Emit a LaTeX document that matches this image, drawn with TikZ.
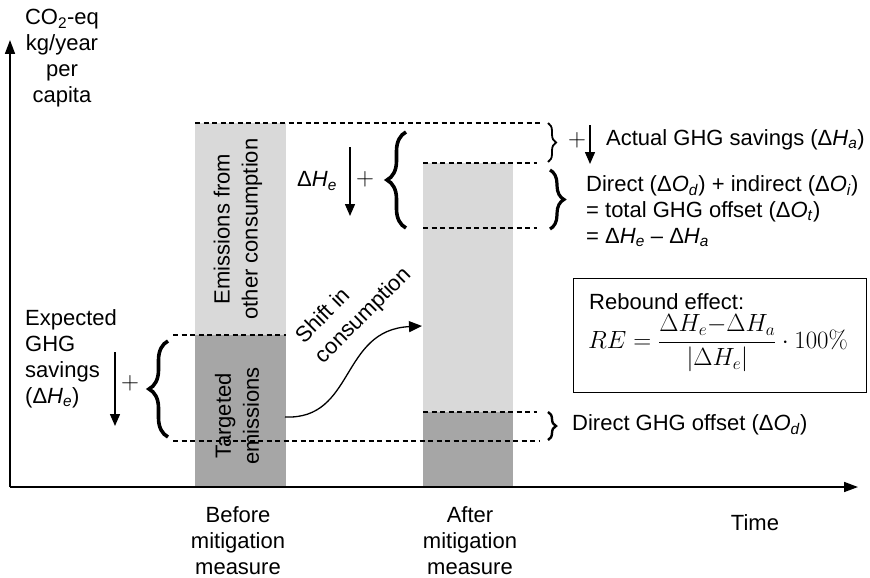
\documentclass[tikz,border=0pt]{standalone}
\usepackage{amsmath}
\usepackage[no-math]{fontspec}
\setmainfont{Liberation Sans}
\usetikzlibrary{arrows.meta,decorations.pathreplacing}
\definecolor{lightbar}{HTML}{D9D9D9}
\definecolor{darkbar}{HTML}{A6A6A6}
\newcommand{\dq}[2]{Δ\textit{#1}\textsubscript{\textit{#2}}}
\begin{document}
\begin{tikzpicture}[x=1pt,y=-1pt,
  every node/.style={font=\fontsize{22}{26}\selectfont, inner sep=0pt},
  dashline/.style={dash pattern=on 5pt off 3.5pt, line width=1.3pt},
  axisarrow/.style={line width=1.6pt, -{Triangle[length=14pt,width=10pt]}},
  varrow/.style={line width=1.4pt, -{Triangle[length=12pt,width=10pt]}},
  curvearrow/.style={line width=1.3pt, -{Triangle[length=13pt,width=11pt]}},
  bracestyle/.style={decorate, decoration={brace, amplitude=#1}},
  rottext/.style={font=\fontsize{22}{28}\selectfont, rotate=90, align=center},
  plussign/.style={font=\fontsize{26}{26}\selectfont}
]
\useasboundingbox (0,0) rectangle (870,578);

% bars
\fill[lightbar] (195,123) rectangle (286,335);
\fill[darkbar] (195,335) rectangle (286,487);
\fill[lightbar] (423,163) rectangle (513,412);
\fill[darkbar] (423,412) rectangle (513,487);

% dashed guide lines
\coordinate (d1a) at (195,123); \coordinate (d1b) at (541,123);
\coordinate (d2a) at (423,163); \coordinate (d2b) at (537,163);
\coordinate (d3a) at (423,228); \coordinate (d3b) at (537,228);
\coordinate (d4a) at (173,335); \coordinate (d4b) at (286,335);
\coordinate (d5a) at (423,412); \coordinate (d5b) at (537,412);
\coordinate (d6a) at (173,441); \coordinate (d6b) at (540,441);
\draw[dashline] (d1a) -- (d1b);
\draw[dashline] (d2a) -- (d2b);
\draw[dashline] (d3a) -- (d3b);
\draw[dashline] (d4a) -- (d4b);
\draw[dashline] (d5a) -- (d5b);
\draw[dashline] (d6a) -- (d6b);

% axes
\coordinate (O) at (10,487);
\coordinate (Ytip) at (10,40);
\coordinate (Xtip) at (858,487);
\draw[axisarrow] (O) -- (Ytip);
\draw[axisarrow] (O) -- (Xtip);

\node[align=center] (ylab) at (62,58) {CO\textsubscript{2}-eq\\kg/year\\per\\capita};

% rotated bar labels
\node[rottext] (other) at (238,229) {Emissions from\\other consumption};
\node[rottext] (target) at (237,416) {Targeted\\emissions};

% shift in consumption
\node[rotate=45, align=left, font=\fontsize{22}{28}\selectfont] (shift) at (354,306) {Shift in\\consumption};
\coordinate (s1) at (285,417);
\coordinate (s2) at (422,326);
\draw[curvearrow] (s1) .. controls (355,420) and (340,330) .. (s2);

% expected savings
\node[align=left, anchor=west] (exp) at (25,359) {Expected\\GHG\\savings\\(\dq{H}{e})};
\coordinate (a1s) at (115,352); \coordinate (a1e) at (115,426);
\draw[varrow] (a1s) -- (a1e);
\node[plussign] (p1) at (130,383) {$+$};
\coordinate (b1s) at (168,437); \coordinate (b1e) at (168,341);
\draw[bracestyle=19, line width=3.6pt] (b1s) -- (b1e);

% middle Delta He
\node[anchor=west] (dhe) at (297,181) {\dq{H}{e}};
\coordinate (a2s) at (350,147); \coordinate (a2e) at (350,216);
\draw[varrow] (a2s) -- (a2e);
\node[plussign] (p2) at (365,179) {$+$};
\coordinate (b2s) at (406,228); \coordinate (b2e) at (406,132);
\draw[bracestyle=19, line width=3.6pt] (b2s) -- (b2e);

% actual savings
\coordinate (b3s) at (548,123); \coordinate (b3e) at (548,162);
\draw[bracestyle=8, line width=1.8pt] (b3s) -- (b3e);
\node[plussign] (p3) at (577,140) {$+$};
\coordinate (a3s) at (590,125); \coordinate (a3e) at (590,164);
\draw[varrow] (a3s) -- (a3e);
\node[anchor=west] (actual) at (606,140) {Actual GHG savings (\dq{H}{a})};

% total offset
\coordinate (b4s) at (550,170); \coordinate (b4e) at (550,229);
\draw[bracestyle=14, line width=3.2pt] (b4s) -- (b4e);
\node[anchor=west, align=left] (offset) at (586,211) {Direct (\dq{O}{d}) + indirect (\dq{O}{i})\\= total GHG offset (\dq{O}{t})\\= \dq{H}{e} – \dq{H}{a}};

% direct offset
\coordinate (b5s) at (548,412); \coordinate (b5e) at (548,440);
\draw[bracestyle=8, line width=2.4pt] (b5s) -- (b5e);
\node[anchor=west] (direct) at (572,425) {Direct GHG offset (\dq{O}{d})};

% rebound box
\node[draw, line width=1.3pt, anchor=north west, minimum width=293pt, minimum height=114pt] (box) at (573,278) {};
\node[anchor=west] (rbtitle) at (589,302) {Rebound effect:};
\node[anchor=west, font=\fontsize{25}{28}\selectfont] (formula) at (588,343) {$RE = \dfrac{\Delta H_e{-}\Delta H_a}{|\Delta H_e|}\cdot \mathrm{100\%}$};

% time labels
\node[align=center] (before) at (238,541) {Before\\mitigation\\measure};
\node[align=center] (after) at (470,541) {After\\mitigation\\measure};
\node (time) at (755,523) {Time};
\end{tikzpicture}
\end{document}
